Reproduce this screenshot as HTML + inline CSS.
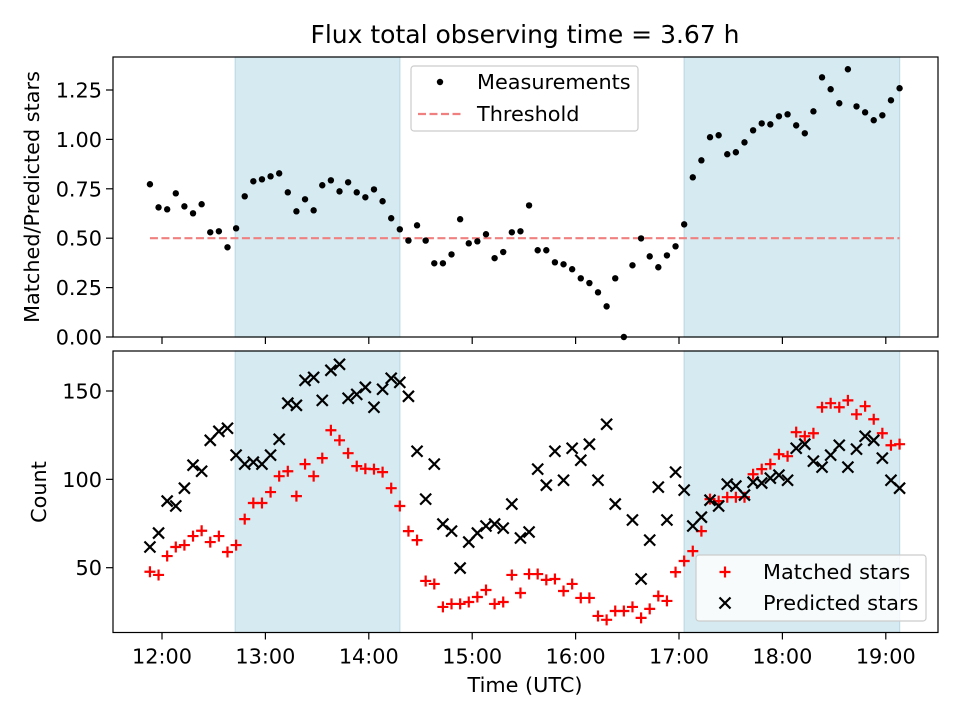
<!DOCTYPE html>
<html><head><meta charset="utf-8"><style>
body{margin:0;background:#fff;}
svg{display:block;font-family:"DejaVu Sans","Liberation Sans",sans-serif;}
</style></head><body>
<svg id="chart" width="960" height="720" viewBox="0 0 960 720" xmlns="http://www.w3.org/2000/svg"></svg>
<script>
const ratio = [0.773,0.656,0.646,0.727,0.661,0.626,0.672,0.530,0.535,0.454,0.550,0.712,0.788,0.798,0.813,0.828,0.732,0.636,0.697,0.641,0.768,0.793,0.737,0.783,0.732,0.707,0.747,0.687,0.601,0.545,0.488,0.565,0.488,0.373,0.373,0.418,0.596,0.474,0.484,0.520,0.399,0.430,0.530,0.535,0.666,0.439,0.439,0.378,0.368,0.343,0.297,0.273,0.226,0.155,0.297,0.0,0.363,0.499,0.408,0.353,0.413,0.459,0.570,0.808,0.894,1.011,1.021,0.925,0.935,0.985,1.046,1.081,1.076,1.117,1.127,1.071,1.031,1.142,1.314,1.254,1.183,1.355,1.167,1.137,1.097,1.122,1.198,1.259];
const matched = [47.7,45.9,56.6,61.7,62.8,67.9,70.9,64.5,67.9,58.9,62.8,77.5,86.6,86.6,92.8,101.8,104.6,90.5,108.6,101.8,112,127.8,122.1,114.8,107.5,106,105.8,104.1,95,84.9,70.7,65.6,42.5,40.8,27.8,29.5,29.5,30.6,33.4,37.4,29.5,30.6,45.9,35.7,46.4,46.4,43.1,43.6,36.8,40.8,32.9,32.9,22.7,20.5,25.5,25.5,27.8,21.6,26.7,34,31.2,47.5,53.8,59.4,70.7,88.8,87.7,89.9,89.9,89.9,102.9,105.8,108.6,114.2,113.1,126.7,124.4,126.1,140.8,143.1,140.8,144.7,136.8,141.4,134,126.1,119.3,119.9];
const predicted = [61.7,69.6,87.7,84.9,95,108,104.6,122.1,127.2,128.9,113.7,108.6,109.7,108.6,113.7,122.7,143.1,141.9,156,157.7,144.7,161.7,165.1,145.9,148.1,152.1,140.8,151,157.2,154.9,147,115.9,88.8,108.6,74.7,70.7,49.8,64.5,69.6,73.6,74.7,72.4,86,66.8,70.2,105.8,96.7,115.9,99.5,117.6,110.8,119.9,99.5,131.2,86.0,null,77,43.6,65.6,95.6,77,104.1,93.9,73.6,78.6,88.2,84.9,97.3,96.2,91.1,98.4,97.9,100.7,102.4,99.5,117.6,119.9,110.3,106.9,113.7,119.3,106.9,117.1,124.4,122.1,112,99.5,95];
const startMinutes = -7, stepMinutes = 5;
const shadeSpans = [[42.5,138],[303,428]];
const threshold = 0.5;
const xTickLabels = ["12:00","13:00","14:00","15:00","16:00","17:00","18:00","19:00"];
const topTicks = [0,0.25,0.5,0.75,1.0,1.25];
const botTicks = [50,100,150];

const svg = document.getElementById('chart');
const NS = 'http://www.w3.org/2000/svg';
function mk(tag, attrs, parent){const e=document.createElementNS(NS,tag);for(const k in attrs)e.setAttribute(k,attrs[k]);(parent||svg).appendChild(e);return e;}
const L=113, R=938, T1=57, B1=337, T2=351, B2=632.5;
const FS=20.8;
const xs = m => 162 + m/60*103.4;
const y1 = v => B1 - v/1.417*(B1-T1);
const y2 = v => 391 - (v-150)*1.767;
const timeOf = i => startMinutes + i*stepMinutes;

let t=mk('text',{x:525,y:43,'text-anchor':'middle','font-size':'25'});t.textContent='Flux total observing time = 3.67 h';



function panel(top,bot,name){
  const g=mk('g',{});
  
  
  shadeSpans.forEach(s=>{
    const r=mk('rect',{x:xs(s[0]),y:top,width:xs(s[1])-xs(s[0]),height:bot-top,fill:'#d5eaf1',stroke:'#bcdbe6','stroke-width':1.2},g);
    
    
  });
  return g;
}
const gTop=panel(T1,B1,'top-panel');
const gBot=panel(T2,B2,'bottom-panel');

const th=mk('line',{x1:xs(timeOf(0)),x2:xs(timeOf(ratio.length-1)),y1:y1(threshold),y2:y1(threshold),stroke:'#f08080','stroke-width':2.2,'stroke-dasharray':'8 3.5'},gTop);



ratio.forEach((v,i)=>{
  const c=mk('circle',{cx:xs(timeOf(i)),cy:y1(v),r:3.2,fill:'#000'},gTop);
  
  
});
function plus(x,y,parent){return mk('path',{d:`M${x-5.5} ${y}H${x+5.5}M${x} ${y-5.5}V${y+5.5}`,stroke:'#f00','stroke-width':2.2},parent);}
function cross(x,y,parent){return mk('path',{d:`M${x-5.5} ${y-5.5}L${x+5.5} ${y+5.5}M${x-5.5} ${y+5.5}L${x+5.5} ${y-5.5}`,stroke:'#000','stroke-width':2.2},parent);}
matched.forEach((v,i)=>{
  const p=plus(xs(timeOf(i)),y2(v),gBot);
  
  
});
predicted.forEach((v,i)=>{
  if(v===null)return;
  const p=cross(xs(timeOf(i)),y2(v),gBot);
  
  
});

[[T1,B1,'top-axes-frame'],[T2,B2,'bottom-axes-frame']].forEach(a=>{
  const r=mk('rect',{x:L,y:a[0],width:R-L,height:a[1]-a[0],fill:'none',stroke:'#000','stroke-width':1.2});
  
  
});
xTickLabels.forEach((lab,i)=>{
  const x=xs(i*60);
  mk('line',{x1:x,x2:x,y1:B1,y2:B1+7,stroke:'#000','stroke-width':1.2});
  mk('line',{x1:x,x2:x,y1:B2,y2:B2+7,stroke:'#000','stroke-width':1.2});
  const tx=mk('text',{x:x,y:B2+31,'text-anchor':'middle','font-size':FS});tx.textContent=lab;
  
  
});
topTicks.forEach(v=>{
  const y=y1(v);
  mk('line',{x1:L-7,x2:L,y1:y,y2:y,stroke:'#000','stroke-width':1.2});
  const tx=mk('text',{x:L-11,y:y+7.5,'text-anchor':'end','font-size':FS});tx.textContent=v.toFixed(2);
  
  
});
botTicks.forEach(v=>{
  const y=y2(v);
  mk('line',{x1:L-7,x2:L,y1:y,y2:y,stroke:'#000','stroke-width':1.2});
  const tx=mk('text',{x:L-11,y:y+7.5,'text-anchor':'end','font-size':FS});tx.textContent=String(v);
  
  
});
let a=mk('text',{x:525,y:692,'text-anchor':'middle','font-size':FS});a.textContent='Time (UTC)';


a=mk('text',{x:0,y:0,'text-anchor':'middle','font-size':FS,transform:'translate(39,197) rotate(-90)'});a.textContent='Matched/Predicted stars';


a=mk('text',{x:0,y:0,'text-anchor':'middle','font-size':FS,transform:'translate(46,492) rotate(-90)'});a.textContent='Count';



const lg1=mk('g',{});


mk('rect',{x:411,y:66,width:227,height:65,rx:3,fill:'rgba(255,255,255,0.8)',stroke:'#ccc','stroke-width':1.2},lg1);
mk('circle',{cx:440,cy:82,r:3.2,fill:'#000'},lg1);
let lt=mk('text',{x:477,y:89,'font-size':FS},lg1);lt.textContent='Measurements';


mk('line',{x1:418,x2:462,y1:114,y2:114,stroke:'#f08080','stroke-width':2.2,'stroke-dasharray':'8 3.5'},lg1);
lt=mk('text',{x:477,y:121,'font-size':FS},lg1);lt.textContent='Threshold';



const lg2=mk('g',{});


mk('rect',{x:696,y:555,width:230,height:66,rx:3,fill:'rgba(255,255,255,0.8)',stroke:'#ccc','stroke-width':1.2},lg2);
plus(725,572,lg2);
lt=mk('text',{x:763,y:579,'font-size':FS},lg2);lt.textContent='Matched stars';


cross(725,603,lg2);
lt=mk('text',{x:763,y:610,'font-size':FS},lg2);lt.textContent='Predicted stars';


</script>
</body></html>
